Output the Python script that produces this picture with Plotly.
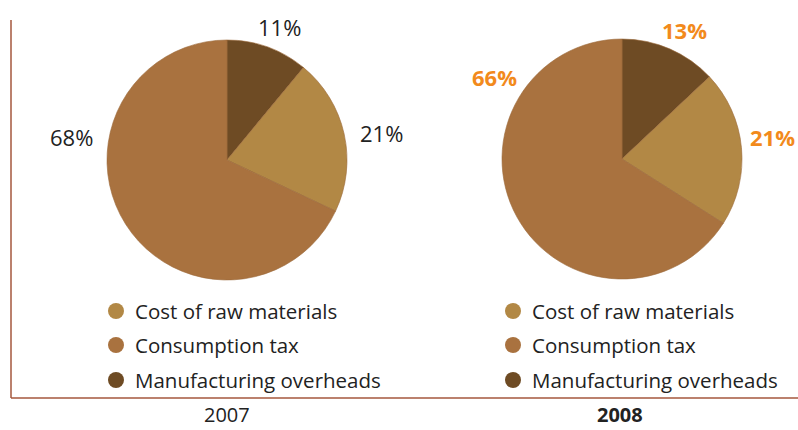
import plotly.graph_objects as go

categories = ["Manufacturing overheads", "Cost of raw materials", "Consumption tax"]
values_2007 = [11, 21, 68]
values_2008 = [13, 21, 66]
years = ["2007", "2008"]
legend_order = ["Cost of raw materials", "Consumption tax", "Manufacturing overheads"]

colors = {
    "Manufacturing overheads": "#6e4b24",
    "Cost of raw materials": "#b28845",
    "Consumption tax": "#a9723f",
}

W, H = 798, 430

def px(x):
    return x / W

def py(y):
    return 1 - y / H

fig = go.Figure()

pies = [
    (values_2007, 227, 160),
    (values_2008, 622, 159),
]
R = 120
for vals, cx, cy in pies:
    fig.add_trace(go.Pie(
        labels=categories,
        values=vals,
        sort=False,
        direction="clockwise",
        rotation=0,
        textinfo="none",
        hoverinfo="label+percent",
        marker=dict(colors=[colors[c] for c in categories],
                    line=dict(color="#9c6a3a", width=0.6)),
        domain=dict(x=[px(cx - R), px(cx + R)], y=[py(cy + R), py(cy - R)]),
        showlegend=False,
    ))

# percentage labels (x, y, xanchor)
label_pos_2007 = [(279, 27, "center"), (381, 133, "center"), (71, 137, "center")]
label_pos_2008 = [(684, 30, "center"), (797, 137, "right"), (494, 77, "center")]
annotations = []
for vals, poss, style in [
    (values_2007, label_pos_2007, dict(color="#222222", family="Open Sans", size=22)),
    (values_2008, label_pos_2008, dict(color="#f28a1c", family="Open Sans", size=22, weight="bold")),
]:
    for v, (x, y, xa) in zip(vals, poss):
        annotations.append(dict(
            x=px(x), y=py(y), xref="paper", yref="paper",
            text=f"{v}%", showarrow=False, font=style,
            xanchor=xa, yanchor="middle",
        ))

# legends
shapes = []
legend_rows = [311, 345, 380]
for lx in [116, 513]:
    for name, ly in zip(legend_order, legend_rows):
        r = 8
        shapes.append(dict(type="circle", xref="paper", yref="paper",
                           x0=px(lx - r), x1=px(lx + r), y0=py(ly + r), y1=py(ly - r),
                           fillcolor=colors[name], line=dict(width=0)))
        annotations.append(dict(
            x=px(lx + 17), y=py(ly), xref="paper", yref="paper",
            text=name, showarrow=False, xanchor="left", yanchor="middle",
            font=dict(color="#222222", family="Open Sans", size=20.5),
        ))

# year labels
for yr, xc, bold in [(years[0], 227, False), (years[1], 620, True)]:
    f = dict(color="#222222", family="Open Sans", size=20)
    if bold:
        f["weight"] = "bold"
    annotations.append(dict(x=px(xc), y=0, xref="paper", yref="paper",
                            text=yr, showarrow=False, font=f,
                            xanchor="center", yanchor="bottom"))

# frame lines
line_col = "#a5573c"
shapes.append(dict(type="line", xref="paper", yref="paper",
                   x0=px(11), x1=px(11), y0=py(20), y1=py(398),
                   line=dict(color=line_col, width=1.5)))
shapes.append(dict(type="line", xref="paper", yref="paper",
                   x0=px(11), x1=px(798), y0=py(398), y1=py(398),
                   line=dict(color=line_col, width=1.5)))

fig.update_layout(
    width=W, height=H,
    margin=dict(l=0, r=0, t=0, b=0),
    paper_bgcolor="white", plot_bgcolor="white",
    annotations=annotations, shapes=shapes,
    showlegend=False,
)

fig.write_html("out.html")
